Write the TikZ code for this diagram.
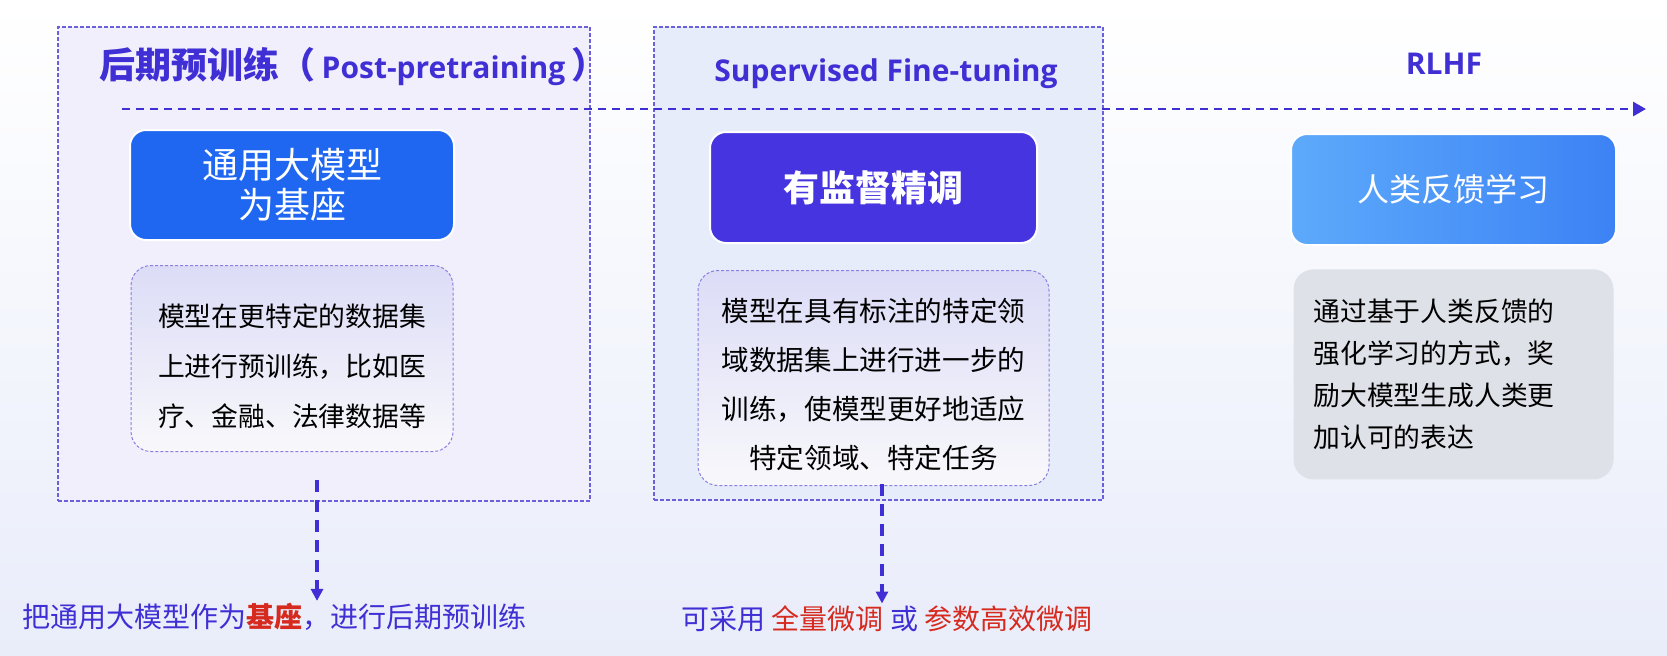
\documentclass[tikz,border=0pt]{standalone}
\usepackage{fontspec}
\setmainfont{Noto Sans CJK SC}
\newfontfamily\ttlfont{Open Sans}
\usetikzlibrary{
  arrows.meta,
  positioning
}
\definecolor{ftInk}{HTML}{3F2FD4}
\definecolor{ftBlue}{HTML}{1F66F1}
\definecolor{ftViolet}{HTML}{4634E0}
\definecolor{ftSkyA}{HTML}{5DAAFB}
\definecolor{ftSkyB}{HTML}{3C82F5}
\definecolor{ftGray}{HTML}{DEE1E8}
\definecolor{ftRed}{HTML}{D62A1F}
\definecolor{ftLav}{HTML}{F1EFFC}
\definecolor{ftIce}{HTML}{E6ECFA}
\definecolor{ftMist}{HTML}{E9EDFA}
\definecolor{ftEdge}{HTML}{6B5FDA}
\definecolor{ftDescTop}{HTML}{DCDCF7}
\definecolor{ftDescBot}{HTML}{F8F8FB}
\tikzset{
  stagebox/.style={
    draw=ftEdge, line width=0.6pt, dash pattern=on 2pt off 1pt, inner sep=0pt
  },
  headbox/.style={
    draw=white, line width=1pt, rounded corners=8pt, text=white,
    minimum width=162pt, minimum height=55pt, align=center, inner sep=0pt
  },
  descbox/.style={
    draw=ftEdge!80, line width=0.5pt, dash pattern=on 1.5pt off 1pt, rounded corners=10pt,
    top color=ftDescTop, bottom color=ftDescBot, align=center, inner sep=0pt
  },
  notebox/.style={fill=ftGray, rounded corners=10pt, align=left, inner sep=0pt},
  phasetitle/.style={text=ftInk, font=\ttlfont\bfseries\fontsize{15}{18}\selectfont, inner sep=0pt},
  mainflow/.style={-{Triangle[length=6.5pt, width=7pt]}, ftInk, line width=1.4pt, dash pattern=on 4pt off 3pt},
  drop/.style={-{Triangle[length=6pt, width=6pt]}, ftInk, line width=1.6pt, dash pattern=on 6pt off 4pt},
  caption/.style={text=ftInk, font=\fontsize{14}{16}\selectfont, inner sep=0pt}
}
\begin{document}
\begin{tikzpicture}[x=0.5pt, y=-0.5pt]
  \useasboundingbox (0,0) rectangle (1667,655);
  \fill[top color=white, bottom color=ftMist] (0,0) rectangle (1667,655);
  % stage frames
  \node[stagebox, fill=ftLav, minimum width=266pt, minimum height=237pt] (frameA) at (324,264) {};
  \node[stagebox, fill=ftIce, minimum width=224.5pt, minimum height=236.5pt] (frameB) at (878.5,263.5) {};
  % titles
  \node[phasetitle] (ttlA) at (353.5,66) {{\rmfamily\bfseries\fontsize{18}{18}\selectfont 后期预训练（\,}Post-pretraining{\rmfamily\bfseries\fontsize{18}{18}\selectfont\,）}};
  \node[phasetitle] (ttlB) at (886,74) {Supervised Fine-tuning};
  \node[phasetitle] (ttlC) at (1444,64) {RLHF};
  % stages
  \node[headbox, fill=ftBlue, font=\fontsize{18}{20}\selectfont] (headA) at (292,185) {通用大模型\\为基座};
  \node[descbox, below=12pt of headA, minimum width=161pt, minimum height=93pt, font=\fontsize{13.4}{25}\selectfont] (descA) {\rule{0pt}{19.5pt}模型在更特定的数据集\\上进行预训练，比如医\\疗、金融、法律数据等};
  \node[headbox, fill=ftViolet, minimum width=163.5pt, minimum height=55.5pt, font=\bfseries\fontsize{18}{20}\selectfont] (headB) at (873.5,187.5) {有监督精调};
  \node[descbox, below=13pt of headB, minimum width=175.5pt, minimum height=107.5pt, font=\fontsize{13.8}{24.5}\selectfont] (descB) {\rule{0pt}{18pt}模型在具有标注的特定领\\域数据集上进行进一步的\\训练，使模型更好地适应\\特定领域、特定任务};
  \node[headbox, left color=ftSkyA, right color=ftSkyB, minimum width=162.5pt, minimum height=55.5pt, font=\fontsize{16}{18}\selectfont] (headC) at (1453.5,189.5) {人类反馈学习};
  \node[notebox, below=11.5pt of headC, minimum width=160pt, minimum height=105pt, text width=140pt, font=\fontsize{13.4}{21}\selectfont] (descC) {通过基于人类反馈的\\强化学习的方式，奖\\励大模型生成人类更\\加认可的表达};
  % main flow
  \coordinate (flowIn) at (122,109);
  \coordinate (flowOut) at (1646,109);
  \draw[mainflow] (flowIn) -- (flowOut);
  % captions
  \node[caption] (capA) at (275,617) {把通用大模型作为{\color{ftRed}\bfseries 基座}，进行后期预训练};
  \node[caption] (capB) at (887,619) {可采用 {\color{ftRed}全量微调} 或 {\color{ftRed}参数高效微调}};
  \coordinate (tapA) at (317,480);
  \coordinate (tapB) at (882,484);
  \foreach \s in {A,B}{\draw[drop, shorten >=1pt] (tap\s) -- (tap\s |- cap\s.north);}
\end{tikzpicture}
\end{document}
